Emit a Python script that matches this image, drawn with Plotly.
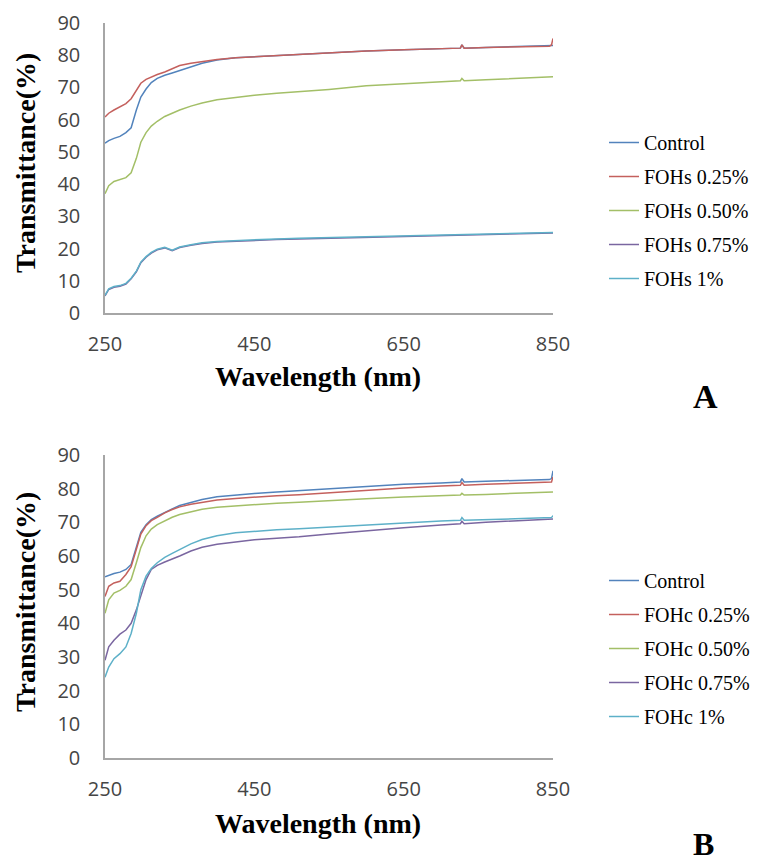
import plotly.graph_objects as go

W, H = 761, 863

wavelength = [250, 255, 262, 270, 278, 285, 292, 298, 305, 312, 320, 330, 340, 350, 365, 380,
              400, 425, 450, 480, 510, 550, 600, 650, 700, 726, 728, 731, 760, 800, 845, 848, 850]

# Panel A
a_names = ["Control", "FOHs 0.25%", "FOHs 0.50%", "FOHs 0.75%", "FOHs 1%"]
a_control = [52.7, 53.5, 54.2, 54.8, 56.0, 57.5, 63.0, 67.0, 69.5, 71.5, 72.8, 73.8, 74.5, 75.3, 76.4, 77.5,
             78.5, 79.2, 79.5, 79.9, 80.3, 80.8, 81.3, 81.7, 82.0, 82.2, 83.2, 82.2, 82.4, 82.6, 82.8, 82.8, 83.0]
a_025 = [60.8, 62.0, 63.0, 64.0, 65.0, 66.5, 69.0, 71.3, 72.5, 73.3, 74.0, 74.8, 75.8, 76.8, 77.5, 78.1,
         78.7, 79.2, 79.5, 79.9, 80.3, 80.8, 81.3, 81.7, 82.0, 82.2, 83.2, 82.2, 82.4, 82.6, 82.8, 83.2, 85.2]
a_050 = [37.0, 39.5, 40.8, 41.3, 42.0, 43.5, 48.0, 53.0, 56.0, 58.0, 59.5, 61.0, 62.0, 63.0, 64.2, 65.2,
         66.2, 67.0, 67.6, 68.2, 68.7, 69.4, 70.5, 71.2, 71.8, 72.1, 72.8, 72.1, 72.4, 72.8, 73.2, 73.3, 73.3]
a_075 = [5.3, 7.3, 8.0, 8.3, 9.0, 10.6, 12.8, 15.6, 17.3, 18.6, 19.6, 20.2, 19.3, 20.3, 21.0, 21.6,
         22.0, 22.3, 22.6, 22.8, 23.0, 23.2, 23.5, 23.8, 24.1, 24.2, 24.3, 24.2, 24.4, 24.6, 24.8, 24.8, 24.8]
a_100 = [5.5, 7.5, 8.2, 8.5, 9.2, 10.8, 13.0, 15.8, 17.5, 18.8, 19.8, 20.4, 19.5, 20.5, 21.2, 21.8,
         22.2, 22.5, 22.8, 23.0, 23.2, 23.4, 23.7, 24.0, 24.3, 24.4, 24.5, 24.4, 24.6, 24.8, 25.0, 25.0, 25.0]

# Panel B
b_names = ["Control", "FOHc 0.25%", "FOHc 0.50%", "FOHc 0.75%", "FOHc 1%"]
b_control = [53.8, 54.3, 54.8, 55.2, 56.0, 57.5, 62.5, 67.0, 69.3, 70.8, 71.8, 73.0, 74.0, 75.0, 76.0, 76.8,
             77.6, 78.2, 78.6, 79.0, 79.4, 80.0, 80.8, 81.3, 81.7, 82.0, 83.0, 82.0, 82.2, 82.5, 82.7, 83.0, 85.3]
b_025 = [48.0, 51.0, 52.0, 52.5, 54.5, 56.8, 62.0, 66.5, 69.0, 70.5, 71.5, 72.8, 73.8, 74.6, 75.4, 76.0,
         76.6, 77.1, 77.5, 77.9, 78.2, 78.8, 79.5, 80.2, 80.8, 81.0, 81.8, 81.0, 81.3, 81.6, 81.8, 82.0, 83.5]
b_050 = [43.0, 47.0, 49.0, 49.8, 51.0, 53.0, 58.0, 62.5, 66.0, 68.0, 69.3, 70.5, 71.5, 72.3, 73.2, 73.9,
         74.5, 74.9, 75.3, 75.7, 76.0, 76.5, 77.0, 77.5, 77.9, 78.1, 78.6, 78.1, 78.3, 78.6, 78.8, 78.9, 79.0]
b_075 = [29.0, 33.0, 35.0, 36.8, 38.0, 40.0, 44.0, 48.5, 53.0, 56.0, 57.2, 58.2, 59.0, 60.0, 61.5, 62.6,
         63.5, 64.2, 64.8, 65.3, 65.7, 66.5, 67.5, 68.4, 69.2, 69.6, 70.3, 69.6, 70.0, 70.4, 70.8, 70.9, 71.0]
b_100 = [24.0, 27.0, 29.5, 31.0, 33.0, 37.0, 43.0, 50.0, 54.0, 56.3, 58.0, 59.6, 60.8, 62.0, 63.6, 64.9,
         66.0, 66.9, 67.4, 67.8, 68.1, 68.6, 69.3, 69.9, 70.4, 70.6, 71.4, 70.6, 70.8, 71.1, 71.3, 71.4, 72.0]

x_ticks = [250, 450, 650, 850]
y_ticks = [0, 10, 20, 30, 40, 50, 60, 70, 80, 90]
colors = ["#5283BC", "#C4605D", "#A3BF67", "#7A66A0", "#5DB0C8"]

def px_x(p):
    return p / W

def px_y(p):
    return 1 - p / H

fig = go.Figure()

a_series = [a_control, a_025, a_050, a_075, a_100]
b_series = [b_control, b_025, b_050, b_075, b_100]

for i, (nm, ys) in enumerate(zip(a_names, a_series)):
    fig.add_trace(go.Scatter(x=wavelength, y=ys, name=nm, mode="lines",
                             line=dict(color=colors[i], width=1.5),
                             xaxis="x", yaxis="y", legend="legend", legendgroup="a%d" % i))
for i, (nm, ys) in enumerate(zip(b_names, b_series)):
    fig.add_trace(go.Scatter(x=wavelength, y=ys, name=nm, mode="lines",
                             line=dict(color=colors[i], width=1.5),
                             xaxis="x2", yaxis="y2", legend="legend2", legendgroup="b%d" % i))

tickfont = dict(family="Open Sans, Arial, sans-serif", size=20, color="#454545")
axis_common = dict(showgrid=False, zeroline=False, showline=True, linecolor="#A6A6A6",
                   linewidth=1.5, ticks="", tickfont=tickfont)

legend_font = dict(family="Liberation Serif, Times New Roman, serif", size=20, color="black")
x_dom = [px_x(105), px_x(553)]
fig.update_layout(
    width=W, height=H,
    margin=dict(l=0, r=0, t=0, b=0, autoexpand=False),
    paper_bgcolor="white", plot_bgcolor="white",
    showlegend=True,
    xaxis=dict(domain=x_dom, range=[250, 850], tickvals=x_ticks, anchor="y",
               ticklabelstandoff=12, **axis_common),
    yaxis=dict(domain=[px_y(313), px_y(23)], range=[0, 90], tickvals=y_ticks, anchor="x",
               ticklabelstandoff=19, **axis_common),
    xaxis2=dict(domain=x_dom, range=[250, 850], tickvals=x_ticks, anchor="y2",
                ticklabelstandoff=12, **axis_common),
    yaxis2=dict(domain=[px_y(758), px_y(455)], range=[0, 90], tickvals=y_ticks, anchor="x2",
                ticklabelstandoff=19, **axis_common),
    legend=dict(x=px_x(604), y=px_y(123), xanchor="left", yanchor="top", font=legend_font,
                tracegroupgap=5, bgcolor="rgba(0,0,0,0)"),
    legend2=dict(x=px_x(604), y=px_y(561), xanchor="left", yanchor="top", font=legend_font,
                 tracegroupgap=5, bgcolor="rgba(0,0,0,0)"),
)

title_font = dict(family="Liberation Serif, Times New Roman, serif", size=28, color="black")
annots = [
    dict(text="<b>Transmittance(%)</b>", x=px_x(25), y=px_y(163), textangle=-90, font=title_font),
    dict(text="<b>Transmittance(%)</b>", x=px_x(25), y=px_y(602), textangle=-90, font=title_font),
    dict(text="<b>Wavelength (nm)</b>", x=px_x(318), y=px_y(377), font=title_font),
    dict(text="<b>Wavelength (nm)</b>", x=px_x(318), y=px_y(823), font=title_font),
    dict(text="<b>A</b>", x=px_x(705), y=px_y(396), font=dict(family="Liberation Serif, serif", size=34, color="black")),
    dict(text="<b>B</b>", x=px_x(703), y=px_y(844), font=dict(family="Liberation Serif, serif", size=32, color="black")),
]
for a in annots:
    a.update(xref="paper", yref="paper", showarrow=False, xanchor="center", yanchor="middle")
    fig.add_annotation(**a)

fig.write_html("out.html")
